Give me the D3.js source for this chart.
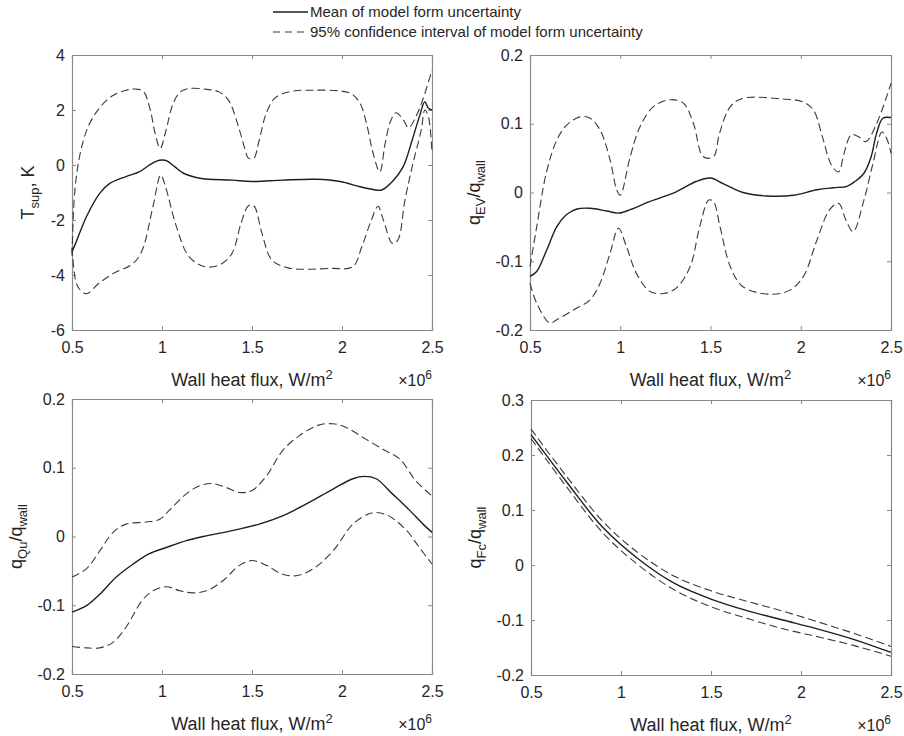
<!DOCTYPE html>
<html>
<head>
<meta charset="utf-8">
<script src="https://cdn.jsdelivr.net/npm/d3@7"></script>
<style>
  body { margin: 0; background: #ffffff; }
  svg { display: block; font-family: "Liberation Sans", Arial, sans-serif; }
</style>
</head>
<body>
<svg id="chart" width="904" height="736"></svg>
<script>
// wall heat flux in units of 1e6 W/m^2
const xTicks = [0.5, 1, 1.5, 2, 2.5];
const legendLabels = ["Mean of model form uncertainty", "95% confidence interval of model form uncertainty"];

// T_sup, K
const tsupTicks = [-6, -4, -2, 0, 2, 4];
const tsupMean = [[0.5,-3.15],[0.52,-2.85],[0.58,-1.88],[0.654,-1.03],[0.71,-0.67],[0.8,-0.42],[0.876,-0.24],[0.93,0.0],[0.97,0.14],[1.0,0.18],[1.03,0.14],[1.07,-0.06],[1.12,-0.3],[1.21,-0.48],[1.39,-0.55],[1.5,-0.6],[1.67,-0.55],[1.86,-0.52],[1.99,-0.6],[2.1,-0.79],[2.19,-0.91],[2.22,-0.91],[2.28,-0.6],[2.34,-0.06],[2.39,0.91],[2.43,1.76],[2.46,2.3],[2.48,2.06],[2.5,2.0]];
const tsupUpper = [[0.5,-3.3],[0.515,-1.0],[0.545,0.4],[0.59,1.4],[0.65,2.05],[0.72,2.5],[0.8,2.72],[0.87,2.75],[0.9,2.65],[0.935,2.0],[0.96,1.2],[0.99,0.6],[1.02,1.2],[1.06,2.2],[1.1,2.65],[1.15,2.78],[1.25,2.75],[1.32,2.65],[1.37,2.35],[1.42,1.5],[1.46,0.6],[1.48,0.25],[1.51,0.25],[1.54,0.9],[1.58,1.9],[1.63,2.45],[1.72,2.68],[1.85,2.72],[1.98,2.7],[2.05,2.6],[2.1,2.25],[2.14,1.4],[2.17,0.5],[2.21,-0.25],[2.24,0.8],[2.27,1.6],[2.3,1.9],[2.34,1.65],[2.37,1.35],[2.41,1.75],[2.45,2.4],[2.5,3.45]];
const tsupLower = [[0.5,-3.0],[0.52,-4.2],[0.54,-4.5],[0.58,-4.68],[0.65,-4.3],[0.73,-3.94],[0.84,-3.58],[0.89,-3.1],[0.95,-1.5],[0.993,-0.36],[1.02,-0.8],[1.08,-2.24],[1.15,-3.33],[1.24,-3.7],[1.33,-3.6],[1.39,-3.2],[1.44,-2.1],[1.48,-1.48],[1.51,-1.48],[1.555,-2.48],[1.61,-3.45],[1.7,-3.74],[1.94,-3.76],[2.06,-3.7],[2.11,-2.97],[2.16,-2.06],[2.2,-1.5],[2.23,-2.0],[2.28,-2.85],[2.31,-2.73],[2.35,-1.27],[2.39,-0.06],[2.44,1.27],[2.46,2.0],[2.48,1.76],[2.5,0.42]];

// q_EV / q_wall
const evTicks = [-0.2, -0.1, 0, 0.1, 0.2];
const evMean = [[0.5,-0.122],[0.537,-0.115],[0.592,-0.084],[0.648,-0.05],[0.703,-0.032],[0.76,-0.024],[0.833,-0.023],[0.925,-0.027],[0.99,-0.03],[1.055,-0.025],[1.165,-0.013],[1.31,0.001],[1.42,0.016],[1.5,0.021],[1.57,0.013],[1.68,0.0],[1.81,-0.005],[1.96,-0.004],[2.09,0.004],[2.18,0.007],[2.256,0.009],[2.3,0.016],[2.35,0.028],[2.39,0.052],[2.42,0.086],[2.455,0.108],[2.5,0.109]];
const evUpper = [[0.5,-0.108],[0.537,-0.05],[0.59,0.028],[0.648,0.076],[0.703,0.098],[0.777,0.11],[0.833,0.108],[0.888,0.091],[0.944,0.047],[0.98,0.004],[1.0,-0.004],[1.055,0.052],[1.11,0.096],[1.184,0.125],[1.277,0.135],[1.35,0.13],[1.406,0.1],[1.46,0.052],[1.516,0.052],[1.55,0.086],[1.61,0.125],[1.68,0.137],[1.9,0.136],[2.01,0.132],[2.07,0.12],[2.12,0.081],[2.17,0.04],[2.21,0.03],[2.24,0.057],[2.28,0.084],[2.32,0.081],[2.36,0.074],[2.42,0.1],[2.5,0.159]];
const evLower = [[0.5,-0.132],[0.537,-0.161],[0.61,-0.19],[0.648,-0.185],[0.74,-0.171],[0.833,-0.156],[0.888,-0.132],[0.944,-0.088],[0.99,-0.052],[1.035,-0.079],[1.09,-0.118],[1.165,-0.144],[1.24,-0.147],[1.31,-0.139],[1.387,-0.108],[1.44,-0.05],[1.49,-0.011],[1.516,-0.013],[1.553,-0.05],[1.61,-0.108],[1.68,-0.137],[1.83,-0.148],[1.94,-0.142],[2.015,-0.122],[2.09,-0.069],[2.16,-0.025],[2.21,-0.016],[2.25,-0.04],[2.29,-0.057],[2.35,-0.011],[2.4,0.042],[2.45,0.088],[2.48,0.076],[2.5,0.057]];

// q_Qu / q_wall
const quTicks = [-0.2, -0.1, 0, 0.1, 0.2];
const quMean = [[0.5,-0.11],[0.58,-0.1006],[0.654,-0.084],[0.746,-0.059],[0.84,-0.04],[0.93,-0.025],[1.024,-0.016],[1.135,-0.006],[1.246,0.001],[1.39,0.0085],[1.54,0.018],[1.67,0.03],[1.8,0.047],[1.95,0.069],[2.06,0.084],[2.125,0.0875],[2.19,0.084],[2.28,0.062],[2.376,0.038],[2.45,0.018],[2.5,0.006]];
const quUpper = [[0.5,-0.059],[0.58,-0.047],[0.654,-0.021],[0.728,0.006],[0.8,0.018],[0.91,0.021],[0.987,0.025],[1.04,0.038],[1.135,0.062],[1.21,0.074],[1.28,0.077],[1.35,0.072],[1.43,0.064],[1.5,0.067],[1.58,0.088],[1.67,0.125],[1.76,0.146],[1.87,0.162],[1.95,0.164],[2.02,0.159],[2.13,0.142],[2.24,0.125],[2.32,0.113],[2.41,0.081],[2.5,0.059]];
const quLower = [[0.5,-0.16],[0.58,-0.162],[0.654,-0.162],[0.728,-0.154],[0.8,-0.132],[0.89,-0.093],[0.95,-0.079],[1.024,-0.073],[1.1,-0.079],[1.17,-0.082],[1.246,-0.079],[1.34,-0.064],[1.43,-0.042],[1.5,-0.035],[1.58,-0.042],[1.67,-0.055],[1.745,-0.057],[1.84,-0.047],[1.95,-0.021],[2.06,0.018],[2.15,0.033],[2.19,0.035],[2.26,0.03],[2.36,0.0085],[2.43,-0.016],[2.5,-0.04]];

// q_Fc / q_wall
const fcTicks = [-0.2, -0.1, 0, 0.1, 0.2, 0.3];
const fcMean = [[0.5,0.237],[0.7,0.15],[0.9,0.068],[1.1,0.01],[1.3,-0.034],[1.5,-0.062],[1.7,-0.083],[1.9,-0.1],[2.1,-0.117],[2.3,-0.136],[2.5,-0.159]];
const fcUpper = [[0.5,0.247],[0.7,0.16],[0.9,0.079],[1.1,0.021],[1.3,-0.021],[1.5,-0.047],[1.7,-0.066],[1.9,-0.084],[2.1,-0.104],[2.3,-0.125],[2.5,-0.148]];
const fcLower = [[0.5,0.23],[0.7,0.141],[0.9,0.058],[1.1,-0.001],[1.3,-0.046],[1.5,-0.076],[1.7,-0.097],[1.9,-0.116],[2.1,-0.131],[2.3,-0.147],[2.5,-0.166]];

const svg = d3.select("#chart");
const axisColor = "#8a8a8a";
const textColor = "#262626";
const dash = "8,4";

const panels = [
    { x0: 72, x1: 432, y0: 55, y1: 330, ticks: tsupTicks, mean: tsupMean, upper: tsupUpper, lower: tsupLower,
      label: ["T", "sup", ", K", ""], labelOffset: 38 },
    { x0: 530, x1: 891, y0: 55, y1: 330, ticks: evTicks, mean: evMean, upper: evUpper, lower: evLower,
      label: ["q", "EV", "/q", "wall"], labelOffset: 50 },
    { x0: 72, x1: 432, y0: 399, y1: 674, ticks: quTicks, mean: quMean, upper: quUpper, lower: quLower,
      label: ["q", "Qu", "/q", "wall"], labelOffset: 50 },
    { x0: 531, x1: 891, y0: 400, y1: 675, ticks: fcTicks, mean: fcMean, upper: fcUpper, lower: fcLower,
      label: ["q", "Fc", "/q", "wall"], labelOffset: 50 }
];

function tickFormat(v) {
    return String(+v.toFixed(2));
}

function drawPanel(p) {
    const g = svg.append("g");
    const x = d3.scaleLinear().domain([0.5, 2.5]).range([p.x0, p.x1]);
    const y = d3.scaleLinear().domain(d3.extent(p.ticks)).range([p.y1, p.y0]);

    // bottom / left axes with labels, ticks drawn inward
    g.append("g")
        .attr("transform", `translate(0,${p.y1})`)
        .call(d3.axisBottom(x).tickValues(xTicks).tickSize(-4).tickPadding(12).tickFormat(tickFormat));
    g.append("g")
        .attr("transform", `translate(${p.x0},0)`)
        .call(d3.axisLeft(y).tickValues(p.ticks).tickSize(-4).tickPadding(7).tickFormat(tickFormat));
    // top / right mirror ticks, no labels
    g.append("g")
        .attr("transform", `translate(0,${p.y0})`)
        .call(d3.axisTop(x).tickValues(xTicks).tickSize(-4).tickFormat(""));
    g.append("g")
        .attr("transform", `translate(${p.x1},0)`)
        .call(d3.axisRight(y).tickValues(p.ticks).tickSize(-4).tickFormat(""));

    g.selectAll(".domain").attr("stroke", axisColor).attr("stroke-width", 1.2);
    g.selectAll(".tick line").attr("stroke", axisColor);
    g.selectAll(".tick text")
        .style("font-size", "16px")
        .style("font-family", "'Liberation Sans', Arial, sans-serif")
        .attr("fill", textColor);

    const line = d3.line()
        .x(d => x(d[0]))
        .y(d => y(d[1]))
        .curve(d3.curveCatmullRom.alpha(0.5));

    [p.upper, p.lower].forEach(series => {
        g.append("path")
            .attr("d", line(series))
            .attr("fill", "none")
            .attr("stroke", "#3a3a3a")
            .attr("stroke-width", 1.1)
            .attr("stroke-dasharray", dash);
    });
    g.append("path")
        .attr("d", line(p.mean))
        .attr("fill", "none")
        .attr("stroke", "#1e1e1e")
        .attr("stroke-width", 1.4);

    // x label
    const xl = g.append("text")
        .attr("x", (p.x0 + p.x1) / 2)
        .attr("y", p.y1 + 56)
        .attr("text-anchor", "middle")
        .attr("fill", textColor)
        .style("font-size", "18px");
    xl.append("tspan").text("Wall heat flux, W/m");
    xl.append("tspan").attr("dy", -7).style("font-size", "13px").text("2");

    const ex = g.append("text")
        .attr("x", p.x1)
        .attr("y", p.y1 + 56)
        .attr("text-anchor", "end")
        .attr("fill", textColor)
        .style("font-size", "16px");
    ex.append("tspan").text("\u00d710");
    ex.append("tspan").attr("dy", -7).style("font-size", "12px").text("6");

    // y label, rotated, with subscripts
    const yl = g.append("text")
        .attr("transform", `translate(${p.x0 - p.labelOffset},${(p.y0 + p.y1) / 2}) rotate(-90)`)
        .attr("text-anchor", "middle")
        .attr("fill", textColor)
        .style("font-size", "18px");
    yl.append("tspan").text(p.label[0]);
    yl.append("tspan").attr("dy", 5).style("font-size", "13px").text(p.label[1]);
    yl.append("tspan").attr("dy", -5).text(p.label[2]);
    if (p.label[3]) {
        yl.append("tspan").attr("dy", 5).style("font-size", "13px").text(p.label[3]);
    }
}

panels.forEach(drawPanel);

// legend
const legend = svg.append("g");
legendLabels.forEach((label, i) => {
    const cy = 12 + i * 20;
    legend.append("line")
        .attr("x1", 273).attr("x2", 308)
        .attr("y1", cy).attr("y2", cy)
        .attr("stroke", i === 0 ? "#1e1e1e" : "#3a3a3a")
        .attr("stroke-width", i === 0 ? 1.4 : 1.1)
        .attr("stroke-dasharray", i === 0 ? null : "7,5");
    legend.append("text")
        .attr("x", 310)
        .attr("y", cy + 5)
        .attr("fill", textColor)
        .style("font-size", "15px")
        .text(label);
});
</script>
</body>
</html>
